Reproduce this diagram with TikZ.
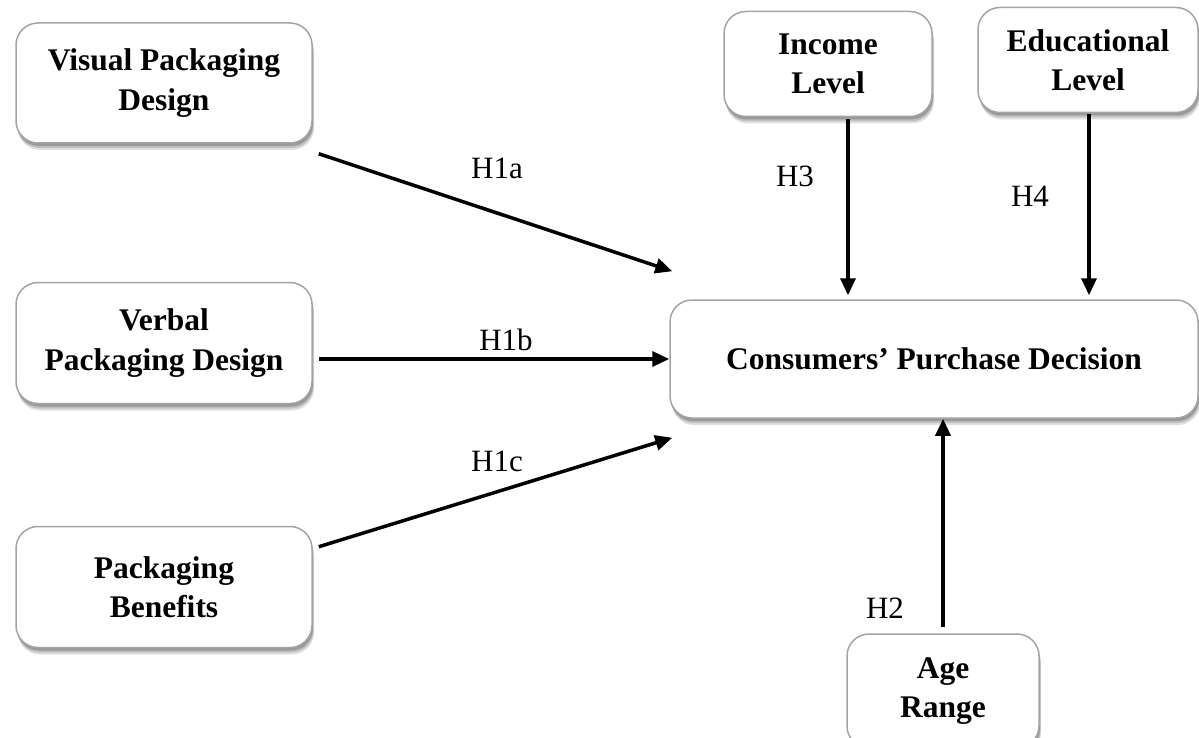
\documentclass[tikz,border=0pt]{standalone}
\usepackage{fontspec}
\setmainfont{Liberation Serif}
\usetikzlibrary{arrows.meta,shadows,calc}
\definecolor{boxgray}{HTML}{A4A4A4}
\begin{document}
\begin{tikzpicture}[x=1pt,y=-1pt,
  box/.style={draw=boxgray, line width=1.5pt, rounded corners=22pt, fill=white,
    align=center, inner sep=0pt,
    font=\fontsize{31.5}{39.5}\selectfont\bfseries,
    drop shadow={shadow xshift=2pt, shadow yshift=-7pt, opacity=0.12, fill=black},
    drop shadow={shadow xshift=1.5pt, shadow yshift=-5pt, opacity=0.15, fill=black},
    drop shadow={shadow xshift=1pt, shadow yshift=-3pt, opacity=0.2, fill=black}},
  conn/.style={line width=3.5pt, -{Triangle[length=17pt,width=15pt]}},
  lab/.style={font=\fontsize{31}{37}\selectfont, inner sep=0pt}]
\useasboundingbox (0,0) rectangle (1199,738);
\clip (0,0) rectangle (1199,738);

\node[box, minimum width=296pt, minimum height=120pt] (vis) at (164,83) {Visual Packaging\\Design};
\node[box, minimum width=296pt, minimum height=121pt] (verb) at (164,343) {Verbal\\Packaging Design};
\node[box, minimum width=296pt, minimum height=121pt] (ben) at (164,587) {Packaging\\Benefits};
\node[box, minimum width=528pt, minimum height=118pt] (cons) at (934,359) {Consumers’ Purchase Decision};
\node[box, minimum width=208pt, minimum height=105pt] (inc) at (828,64) {Income\\Level};
\node[box, minimum width=220pt, minimum height=105pt] (edu) at (1088,60) {Educational\\Level};
\node[box, minimum width=192pt, minimum height=114pt] (age) at (943,691) {Age\\Range};

\coordinate (h3s) at ($(inc.south)+(20,2)$);
\coordinate (h4s) at ($(edu.south)+(1,1)$);
\coordinate (h2s) at ($(age.north)+(0,-6)$);

\draw[conn] ($(vis.south east)+(6,10)$) -- ($(cons.north west)+(3,-28)$);
\draw[conn] ($(verb.east)+(6,16)$) -- (cons.west);
\draw[conn] ($(ben.north east)+(6,21)$) -- ($(cons.south west)+(3,19)$);
\draw[conn, shorten >=4pt] (h3s) -- (h3s |- cons.north);
\draw[conn, shorten >=4pt] (h4s) -- (h4s |- cons.north);
\draw[conn] (h2s) -- (h2s |- cons.south);

\node[lab] (l1a) at (497,168) {H1a};
\node[lab] (l1b) at (506,340) {H1b};
\node[lab] (l1c) at (497,461) {H1c};
\node[lab] (l3) at (795,176) {H3};
\node[lab] (l4) at (1030,196) {H4};
\node[lab] (l2) at (885,608) {H2};
\end{tikzpicture}
\end{document}
